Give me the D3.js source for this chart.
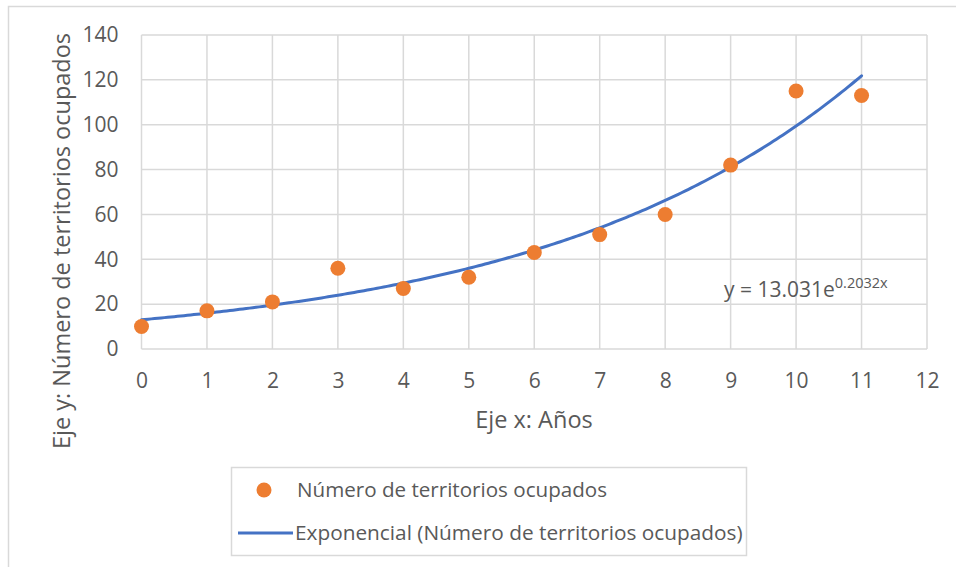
<!DOCTYPE html>
<html>
<head>
<meta charset="utf-8">
<script src="https://cdn.jsdelivr.net/npm/d3@7"></script>
<style>
  html, body { margin: 0; padding: 0; background: #fff; }
  svg { display: block; font-family: "Open Sans", "Noto Sans", sans-serif; }
</style>
</head>
<body>
<svg id="chart" width="956" height="567"></svg>
<script>
// Años y número de territorios ocupados
const years = [0, 1, 2, 3, 4, 5, 6, 7, 8, 9, 10, 11];
const territories = [10, 17, 21, 36, 27, 32, 43, 51, 60, 82, 115, 113];

// Ajuste exponencial y = a·e^(b·x)
const fitA = 13.031;
const fitB = 0.2032;

const xTicks = [0, 1, 2, 3, 4, 5, 6, 7, 8, 9, 10, 11, 12];
const yTicks = [0, 20, 40, 60, 80, 100, 120, 140];

const seriesName = "Número de territorios ocupados";
const trendName = "Exponencial (Número de territorios ocupados)";
const xTitle = "Eje x: Años";
const yTitle = "Eje y: Número de territorios ocupados";

const svg = d3.select("#chart");
const W = 956, H = 567;
const textColor = "#595959";
const gridColor = "#d9d9d9";
const orange = "#ed7d31";
const blue = "#4472c4";

svg.append("rect").attr("width", W).attr("height", H).attr("fill", "#fff");

// marco exterior del gráfico
svg.append("path")
  .attr("d", `M8.5,${H} V6.5 H${W}`)
  .attr("fill", "none").attr("stroke", gridColor).attr("stroke-width", 1.5);

const x = d3.scaleLinear().domain([0, 12]).range([141.5, 927]);
const y = d3.scaleLinear().domain([0, 140]).range([349, 35]);

// cuadrícula
const grid = svg.append("g");
grid.selectAll("line.v").data(xTicks).join("line")
  .attr("x1", d => x(d)).attr("x2", d => x(d))
  .attr("y1", y(0)).attr("y2", y(140))
  .attr("stroke", gridColor).attr("stroke-width", 1.5);
grid.selectAll("line.h").data(yTicks).join("line")
  .attr("x1", x(0)).attr("x2", x(12))
  .attr("y1", d => y(d)).attr("y2", d => y(d))
  .attr("stroke", gridColor).attr("stroke-width", 1.5);

// ejes (solo etiquetas)
const yAxis = svg.append("g").attr("transform", `translate(${x(0)},0)`)
  .call(d3.axisLeft(y).tickValues(yTicks).tickSize(0).tickPadding(23));
const xAxis = svg.append("g").attr("transform", `translate(0,${y(0)})`)
  .call(d3.axisBottom(x).tickValues(xTicks).tickSize(0).tickPadding(24));
[xAxis, yAxis].forEach(g => {
  g.select(".domain").remove();
  g.selectAll("text").attr("fill", textColor)
    .style("font-size", "21px").style("font-family", "'Open Sans', sans-serif");
});

// línea de tendencia
const trendX = d3.range(0, 11.0001, 0.05);
svg.append("path")
  .datum(trendX)
  .attr("fill", "none").attr("stroke", blue).attr("stroke-width", 3)
  .attr("stroke-linecap", "round")
  .attr("d", d3.line().x(d => x(d)).y(d => y(fitA * Math.exp(fitB * d))));

// puntos
svg.append("g").selectAll("circle")
  .data(years.map((yr, i) => ({ yr, v: territories[i] })))
  .join("circle")
  .attr("cx", d => x(d.yr)).attr("cy", d => y(d.v))
  .attr("r", 7.5).attr("fill", orange);

// ecuación
const eq = svg.append("text").attr("x", 724).attr("y", 297)
  .attr("fill", textColor).style("font-size", "21px");
eq.append("tspan").text(`y = ${fitA.toFixed(3)}e`);
eq.append("tspan").attr("dy", -9).style("font-size", "14.5px").text(`${fitB}x`);

// títulos de ejes
svg.append("text")
  .attr("x", 534).attr("y", 428).attr("text-anchor", "middle")
  .attr("fill", textColor).style("font-size", "23.5px").text(xTitle);
svg.append("text")
  .attr("transform", "translate(70,241) rotate(-90)")
  .attr("text-anchor", "middle")
  .attr("fill", textColor).style("font-size", "23.5px").text(yTitle);

// leyenda
const legend = svg.append("g");
legend.append("rect")
  .attr("x", 231.5).attr("y", 467.5).attr("width", 515).attr("height", 88)
  .attr("fill", "#fff").attr("stroke", gridColor).attr("stroke-width", 1.5);
legend.append("circle").attr("cx", 264).attr("cy", 490).attr("r", 7.5).attr("fill", orange);
legend.append("text").attr("x", 297).attr("y", 497)
  .attr("fill", textColor).style("font-size", "20.6px").text(seriesName);
legend.append("line").attr("x1", 238).attr("x2", 293).attr("y1", 533).attr("y2", 533)
  .attr("stroke", blue).attr("stroke-width", 3);
legend.append("text").attr("x", 295).attr("y", 540)
  .attr("fill", textColor).style("font-size", "20.8px").text(trendName);
</script>
</body>
</html>
